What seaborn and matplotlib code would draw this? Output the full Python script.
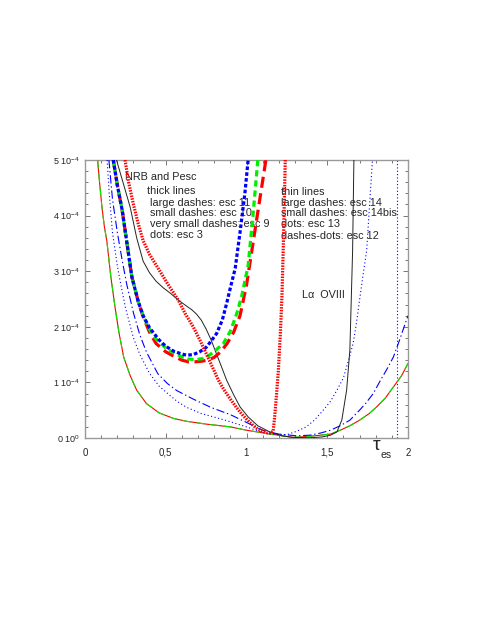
import numpy as np
import pandas as pd
import matplotlib
matplotlib.use("Agg")
import matplotlib.pyplot as plt
from matplotlib.ticker import MultipleLocator, FixedLocator, FixedFormatter
import seaborn as sns

# ---------------- data (y in units of 1e-4) ----------------
esc11_x = [0.175, 0.20, 0.23, 0.26, 0.29, 0.33, 0.36, 0.40, 0.44, 0.50, 0.55, 0.60, 0.64, 0.68, 0.72,
           0.76, 0.80, 0.84, 0.88, 0.92, 0.96, 1.00, 1.04, 1.08, 1.12]
esc11_y = [5.0, 4.55, 4.1, 3.5, 2.9, 2.45, 2.18, 1.9, 1.7, 1.55, 1.47, 1.40, 1.37, 1.37, 1.38,
           1.40, 1.45, 1.55, 1.70, 1.90, 2.20, 2.75, 3.50, 4.25, 5.0]

esc10_x = [0.175, 0.20, 0.23, 0.26, 0.29, 0.33, 0.36, 0.40, 0.44, 0.50, 0.55, 0.60, 0.64, 0.69, 0.73,
           0.77, 0.81, 0.857, 0.90, 0.94, 0.97, 1.01, 1.04, 1.07]
esc10_y = [5.0, 4.55, 4.1, 3.5, 2.9, 2.45, 2.2, 1.95, 1.78, 1.62, 1.53, 1.46, 1.42, 1.41, 1.43,
           1.49, 1.58, 1.70, 1.92, 2.24, 2.55, 3.1, 4.0, 5.0]

esc9_x = [0.175, 0.20, 0.23, 0.26, 0.29, 0.33, 0.36, 0.40, 0.46, 0.50, 0.55, 0.60, 0.63, 0.67, 0.71,
          0.75, 0.78, 0.815, 0.85, 0.877, 0.90, 0.93, 0.96, 0.99, 1.01]
esc9_y = [5.0, 4.55, 4.1, 3.5, 2.9, 2.45, 2.2, 1.98, 1.76, 1.65, 1.56, 1.51, 1.49, 1.50, 1.55,
          1.63, 1.74, 1.88, 2.12, 2.42, 2.70, 3.05, 3.7, 4.4, 5.0]

esc3_x = [0.248, 0.27, 0.30, 0.33, 0.36, 0.40, 0.464, 0.51, 0.578, 0.62, 0.67, 0.71, 0.75, 0.79,
          0.826, 0.86, 0.90, 0.94, 0.98, 1.02, 1.06, 1.10, 1.13, 1.15, 1.165, 1.175, 1.185, 1.197,
          1.21, 1.22, 1.23, 1.24]
esc3_y = [5.0, 4.6, 4.2, 3.85, 3.55, 3.3, 3.0, 2.78, 2.48, 2.24, 2.0, 1.77, 1.52, 1.27,
          1.04, 0.87, 0.70, 0.54, 0.40, 0.28, 0.18, 0.12, 0.09, 0.09, 0.12, 0.40, 0.75, 1.2,
          1.9, 2.6, 3.7, 5.0]

ref_x = [0.195, 0.22, 0.25, 0.28, 0.32, 0.36, 0.40, 0.44, 0.485, 0.53, 0.578, 0.63, 0.66, 0.69,
         0.72, 0.75, 0.78, 0.805, 0.84, 0.877, 0.92, 0.96, 1.01, 1.07, 1.15, 1.22, 1.29, 1.40,
         1.47, 1.52, 1.56, 1.59, 1.62, 1.64, 1.657, 1.665]
ref_y = [5.0, 4.75, 4.45, 4.15, 3.6, 3.18, 2.97, 2.82, 2.7, 2.6, 2.48, 2.37, 2.31, 2.23,
         2.12, 1.96, 1.77, 1.58, 1.32, 1.04, 0.78, 0.56, 0.38, 0.22, 0.1, 0.04, 0.01, 0.005,
         0.02, 0.05, 0.11, 0.32, 0.86, 1.58, 3.37, 5.0]

esc14_x = [0.078, 0.09, 0.105, 0.12, 0.135, 0.16, 0.186, 0.21, 0.24, 0.28, 0.32, 0.38, 0.46, 0.55,
           0.63, 0.75, 0.9, 1.0, 1.15, 1.29, 1.39, 1.52, 1.58, 1.64, 1.70, 1.76, 1.806, 1.86, 1.91,
           1.96, 2.0]
esc14_y = [5.0, 4.6, 4.15, 3.8, 3.55, 2.9, 2.35, 1.9, 1.45, 1.12, 0.86, 0.62, 0.45, 0.35,
           0.3, 0.25, 0.2, 0.14, 0.07, 0.01, 0.03, 0.07, 0.14, 0.22, 0.32, 0.44, 0.56, 0.72, 0.92,
           1.12, 1.34]

esc13_x = [0.137, 0.15, 0.17, 0.20, 0.217, 0.25, 0.30, 0.34, 0.40, 0.46, 0.52, 0.57, 0.63, 0.72, 0.82,
           0.88, 1.0, 1.1, 1.16, 1.25, 1.31, 1.37, 1.42, 1.475, 1.52, 1.56, 1.60, 1.62, 1.64, 1.66,
           1.68, 1.70, 1.72, 1.744, 1.76, 1.78]
esc13_y = [5.0, 4.4, 3.7, 3.1, 2.83, 2.35, 1.8, 1.5, 1.16, 0.93, 0.78, 0.66, 0.55, 0.44, 0.36,
           0.31, 0.2, 0.1, 0.07, 0.06, 0.12, 0.2, 0.32, 0.5, 0.66, 0.86, 1.08, 1.28, 1.48, 1.7,
           2.05, 2.48, 2.9, 3.37, 4.1, 5.0]

esc12_x = [0.148, 0.17, 0.20, 0.23, 0.258, 0.30, 0.34, 0.38, 0.45, 0.51, 0.57, 0.67, 0.78, 0.9,
           1.0, 1.1, 1.2, 1.31, 1.39, 1.46, 1.52, 1.58, 1.64, 1.70, 1.74, 1.785, 1.83, 1.87, 1.91,
           1.95, 1.99, 2.0]
esc12_y = [5.0, 4.3, 3.7, 3.2, 2.77, 2.25, 1.85, 1.55, 1.16, 0.98, 0.85, 0.70, 0.55, 0.42,
           0.28, 0.14, 0.07, 0.04, 0.05, 0.09, 0.14, 0.22, 0.32, 0.5, 0.63, 0.8, 1.04, 1.24, 1.46,
           1.78, 2.12, 2.2]

vline_x = 1.934

x_ticks = [0, 0.5, 1, 1.5, 2]
x_tick_labels = ["0", "0,5", "1", "1,5", "2"]
y_ticks = [0, 1, 2, 3, 4, 5]
y_tick_labels = ["0 10$^{0}$", "1 10$^{-4}$", "2 10$^{-4}$", "3 10$^{-4}$", "4 10$^{-4}$", "5 10$^{-4}$"]

thick_title = "NRB and Pesc"
thick_lines = ["thick lines", " large dashes: esc 11", " small dashes: esc 10",
               " very small dashes: esc 9", " dots: esc 3"]
thin_lines = ["thin lines", "large dashes: esc 14", "small dashes: esc 14bis",
              "dots: esc 13", "dashes-dots: esc 12"]
line_label = "L\u03b1  OVIII"

# ---------------- style ----------------
sns.set_theme(style="white")
plt.rcParams["font.family"] = ["Liberation Sans", "DejaVu Sans"]
plt.rcParams["mathtext.default"] = "regular"
plt.rcParams["lines.scale_dashes"] = False

fig = plt.figure(figsize=(4.91, 6.35), dpi=100)
ax = fig.add_axes([85 / 491, 1 - 438 / 635, 323 / 491, 278 / 635])

RED, GREEN, BLUE = "#ff0000", "#00ee00", "#0000ff"

def curve(x, y, color, lw, ls, capstyle="butt", z=3):
    df = pd.DataFrame({"x": x, "y": y})
    sns.lineplot(data=df, x="x", y="y", sort=False, estimator=None, ax=ax,
                 color=color, linewidth=lw, linestyle=ls, zorder=z)
    ax.lines[-1].set_dash_capstyle(capstyle)

# thin lines
curve(esc14_x, esc14_y, RED, 0.8, "-")
curve(esc14_x, esc14_y, GREEN, 0.8, (0, (6, 4)))
curve(esc13_x, esc13_y, BLUE, 0.8, (0, (0.8, 1.8)))
curve(esc12_x, esc12_y, BLUE, 0.8, (0, (6, 2, 1, 2)))
curve(ref_x, ref_y, "#222222", 0.7, "-")
ax.axvline(vline_x, color=BLUE, lw=0.8, ls=(0, (0.8, 1.6)))

# thick lines
curve(esc11_x, esc11_y, RED, 2.3, (0, (8, 4)))
curve(esc10_x, esc10_y, GREEN, 2.3, (0, (4.5, 2.8)))
curve(esc9_x, esc9_y, BLUE, 2.3, (0, (2.6, 1.6)))
curve(esc3_x, esc3_y, RED, 2.3, (0, (1.1, 0.9)))

ax.set_xlim(0, 2)
ax.set_ylim(0, 5)
ax.set_xlabel("")
ax.set_ylabel("")

ax.xaxis.set_major_locator(FixedLocator(x_ticks))
ax.xaxis.set_major_formatter(FixedFormatter(x_tick_labels))
ax.xaxis.set_minor_locator(MultipleLocator(0.1))
ax.yaxis.set_major_locator(FixedLocator(y_ticks))
ax.yaxis.set_major_formatter(FixedFormatter(y_tick_labels))
ax.yaxis.set_minor_locator(MultipleLocator(0.2))

ax.tick_params(axis="both", which="both", direction="in", top=True, right=True,
               bottom=True, left=True, color="#777777", width=0.7)
ax.tick_params(axis="both", which="major", length=3.5)
ax.tick_params(axis="both", which="minor", length=2.0)
ax.tick_params(axis="x", which="major", labelsize=7, pad=7)
ax.tick_params(axis="y", which="major", labelsize=6.5, pad=3.5)

for s in ax.spines.values():
    s.set_color("#999999")
    s.set_linewidth(1.0)
    s.set_visible(True)

FS = 7.8
ax.text(0.248, 4.70, thick_title, fontsize=FS, ha="left", va="center", zorder=2)
thick_y = [4.44, 4.23, 4.04, 3.85, 3.66]
for t, yy in zip(thick_lines, thick_y):
    ax.text(0.382, yy, t, fontsize=FS, ha="left", va="center", zorder=2)
thin_y = [4.43, 4.23, 4.04, 3.84, 3.64]
for t, yy in zip(thin_lines, thin_y):
    ax.text(1.214, yy, t, fontsize=FS, ha="left", va="center", zorder=2)
ax.text(1.344, 2.57, line_label, fontsize=FS, ha="left", va="center", zorder=2)

ax.text(1.78, -0.13, "\u03c4", fontsize=14, ha="left", va="center", clip_on=False)
ax.text(1.83, -0.31, "es", fontsize=7.5, ha="left", va="center", clip_on=False)

fig.savefig("out.png", dpi=100)
